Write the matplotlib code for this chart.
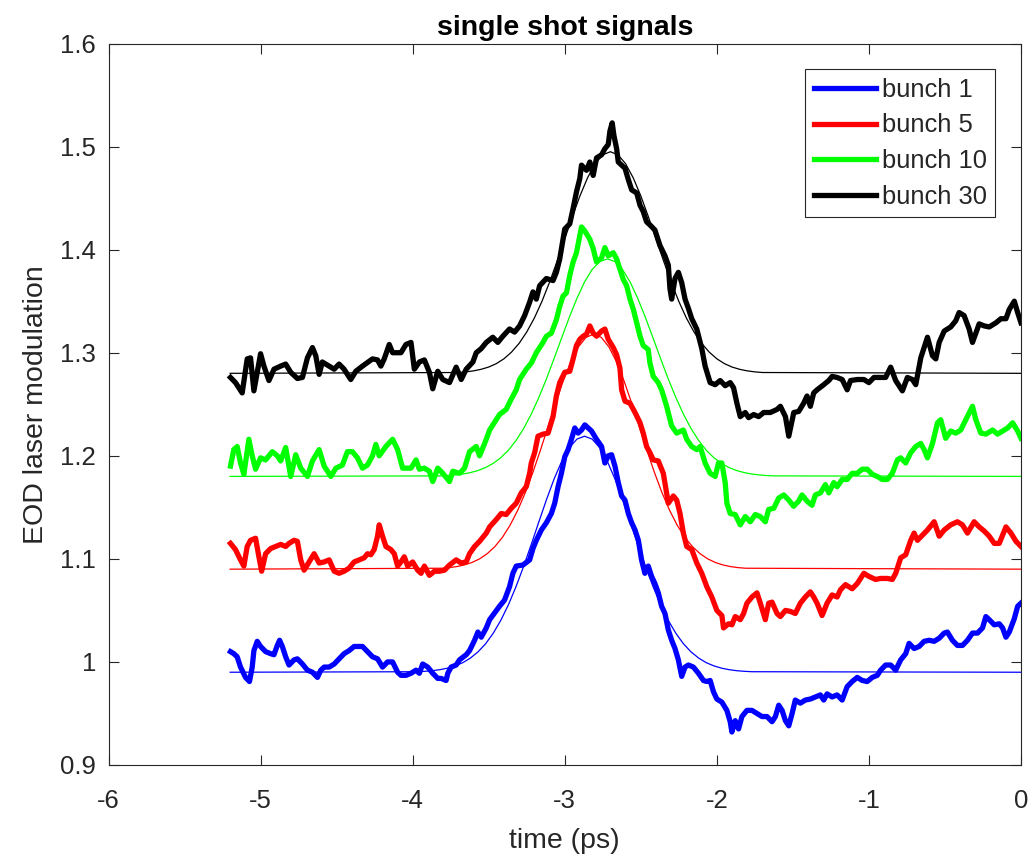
import numpy as np
import matplotlib.pyplot as plt

plt.rcParams['font.family'] = ['Liberation Sans', 'DejaVu Sans']

# ---- measured single shot signals (time in ps, EOD modulation) ----
t_b1 = [-5.198, -5.176, -5.154, -5.132, -5.099, -5.073, -5.055, -5.044, -5.022, -5.000, -4.967, -4.934, -4.912,
        -4.890, -4.875, -4.857, -4.835, -4.813, -4.780, -4.758, -4.725, -4.692, -4.659, -4.626, -4.604, -4.582,
        -4.549, -4.516, -4.484, -4.451, -4.418, -4.385, -4.352, -4.330, -4.297, -4.264, -4.231, -4.198, -4.165,
        -4.132, -4.099, -4.077, -4.044, -4.011, -3.978, -3.956, -3.934, -3.901, -3.868, -3.835, -3.813, -3.780,
        -3.769, -3.747, -3.714, -3.692, -3.648, -3.626, -3.593, -3.571, -3.549, -3.516, -3.494,
        -3.429, -3.396, -3.363, -3.341, -3.319, -3.275, -3.231, -3.209, -3.187, -3.154, -3.121, -3.088, -3.066,
        -3.044, -3.022, -3.000, -2.978, -2.956, -2.934, -2.912, -2.890, -2.868, -2.846, -2.824, -2.791, -2.758,
        -2.736, -2.714, -2.692, -2.670, -2.648, -2.626, -2.604, -2.582, -2.560, -2.538, -2.516, -2.495, -2.473,
        -2.451, -2.429, -2.407, -2.385, -2.363, -2.341, -2.319, -2.297, -2.275, -2.253, -2.231, -2.209, -2.187,
        -2.154, -2.121, -2.088, -2.066, -2.044, -2.022, -2.000, -1.967, -1.934, -1.912,
        -1.901, -1.879, -1.857, -1.835, -1.802, -1.769, -1.736, -1.703, -1.670, -1.637, -1.615, -1.593, -1.571,
        -1.549, -1.527, -1.505, -1.484, -1.451, -1.418, -1.385, -1.352, -1.319, -1.297, -1.275, -1.242, -1.209,
        -1.176, -1.143, -1.110, -1.077, -1.044, -1.011, -0.978, -0.945, -0.923, -0.890, -0.857, -0.824, -0.791,
        -0.758, -0.736, -0.703, -0.670, -0.637, -0.604, -0.571, -0.538, -0.505, -0.484, -0.451, -0.418, -0.385,
        -0.352, -0.319, -0.286, -0.253, -0.231, -0.209, -0.176, -0.143, -0.121, -0.099, -0.077, -0.044, -0.022, 0.000]
v_b1 = [1.010, 1.008, 1.005, 0.995, 0.985, 0.981, 0.995, 1.011, 1.020, 1.015, 1.010, 1.008, 1.007,
        1.016, 1.021, 1.015, 1.005, 0.997, 1.002, 1.003, 0.998, 0.992, 0.990, 0.985, 0.992, 0.995,
        0.995, 0.998, 1.003, 1.008, 1.011, 1.015, 1.015, 1.015, 1.010, 1.005, 1.003, 0.995, 1.000,
        1.000, 0.990, 0.987, 0.987, 0.989, 0.992, 0.989, 0.998, 0.995, 0.989, 0.984, 0.984, 0.982,
        0.989, 0.995, 0.997, 1.002, 1.007, 1.011, 1.021, 1.029, 1.024, 1.033, 1.041,
        1.054, 1.060, 1.073, 1.086, 1.093, 1.094, 1.099, 1.110, 1.118, 1.128, 1.135, 1.144, 1.154,
        1.170, 1.183, 1.199, 1.206, 1.216, 1.227, 1.222, 1.225, 1.230, 1.227, 1.224, 1.216, 1.209,
        1.193, 1.200, 1.201, 1.190, 1.174, 1.161, 1.157, 1.144, 1.135, 1.128, 1.118, 1.099, 1.086,
        1.093, 1.083, 1.076, 1.067, 1.054, 1.047, 1.031, 1.021, 1.013, 1.002, 0.986, 0.995, 0.997,
        0.995, 0.989, 0.982, 0.981, 0.982, 0.971, 0.964, 0.961, 0.953, 0.942,
        0.932, 0.943, 0.935, 0.947, 0.953, 0.953, 0.950, 0.947, 0.947, 0.942, 0.947, 0.958, 0.953,
        0.943, 0.938, 0.950, 0.963, 0.960, 0.963, 0.964, 0.966, 0.968, 0.963, 0.969, 0.966, 0.968,
        0.963, 0.976, 0.981, 0.985, 0.982, 0.981, 0.985, 0.987, 0.992, 0.997, 0.997, 0.992, 1.002,
        1.008, 1.018, 1.013, 1.015, 1.020, 1.021, 1.020, 1.023, 1.028, 1.029, 1.021, 1.016, 1.016,
        1.021, 1.028, 1.028, 1.033, 1.044, 1.041, 1.036, 1.037, 1.033, 1.024, 1.029, 1.042, 1.054, 1.057]

t_b5 = [-5.198, -5.165, -5.132, -5.110, -5.088, -5.066, -5.033, -5.011, -4.993, -4.967, -4.934, -4.901, -4.868,
        -4.835, -4.813, -4.780, -4.758, -4.736, -4.714, -4.681, -4.648, -4.615, -4.582, -4.549, -4.516, -4.484,
        -4.451, -4.418, -4.385, -4.352, -4.319, -4.297, -4.275, -4.253, -4.231, -4.220, -4.198, -4.176, -4.143,
        -4.121, -4.099, -4.077, -4.055, -4.033, -4.000, -3.967, -3.945, -3.923, -3.890, -3.857, -3.824, -3.791,
        -3.758, -3.714, -3.681, -3.648, -3.626, -3.593, -3.560, -3.516, -3.494,
        -3.451, -3.418, -3.385, -3.352, -3.319, -3.286, -3.253, -3.231, -3.220, -3.198, -3.176, -3.143, -3.110,
        -3.077, -3.055, -3.033, -3.000, -2.967, -2.945, -2.923, -2.901, -2.879, -2.857, -2.835, -2.813, -2.791,
        -2.758, -2.736, -2.714, -2.681, -2.659, -2.637, -2.626, -2.604, -2.571, -2.538, -2.505, -2.484, -2.462,
        -2.440, -2.418, -2.385, -2.352, -2.330, -2.319, -2.286, -2.264, -2.242, -2.220, -2.198, -2.165, -2.132,
        -2.099, -2.066, -2.033, -2.000, -1.967, -1.956, -1.923,
        -1.901, -1.879, -1.846, -1.824, -1.802, -1.769, -1.736, -1.714, -1.681, -1.659, -1.637, -1.604, -1.582,
        -1.549, -1.516, -1.484, -1.451, -1.418, -1.385, -1.363, -1.341, -1.308, -1.275, -1.242, -1.209, -1.187,
        -1.154, -1.110, -1.077, -1.033, -1.000, -0.956, -0.923, -0.879, -0.846, -0.824, -0.791, -0.758, -0.725,
        -0.703, -0.681, -0.648, -0.615, -0.571, -0.538, -0.505, -0.462, -0.418, -0.385, -0.352, -0.308, -0.275,
        -0.242, -0.209, -0.176, -0.143, -0.121, -0.099, -0.066, -0.033, 0.000]
v_b5 = [1.115, 1.109, 1.099, 1.093, 1.112, 1.118, 1.120, 1.102, 1.088, 1.105, 1.110, 1.112, 1.114,
        1.112, 1.115, 1.118, 1.117, 1.099, 1.089, 1.097, 1.105, 1.096, 1.097, 1.099, 1.088, 1.086,
        1.088, 1.091, 1.097, 1.099, 1.101, 1.105, 1.104, 1.109, 1.122, 1.133, 1.122, 1.112, 1.109,
        1.105, 1.093, 1.097, 1.102, 1.093, 1.097, 1.089, 1.086, 1.093, 1.084, 1.088, 1.088, 1.089,
        1.094, 1.099, 1.096, 1.097, 1.105, 1.112, 1.117, 1.125, 1.131,
        1.138, 1.144, 1.143, 1.149, 1.154, 1.164, 1.170, 1.183, 1.193, 1.203, 1.219, 1.221, 1.222,
        1.238, 1.258, 1.271, 1.281, 1.282, 1.294, 1.307, 1.313, 1.316, 1.318, 1.326, 1.319, 1.316,
        1.321, 1.323, 1.313, 1.305, 1.298, 1.285, 1.264, 1.253, 1.251, 1.242, 1.232, 1.222, 1.209,
        1.203, 1.196, 1.195, 1.183, 1.164, 1.154, 1.161, 1.157, 1.144, 1.125, 1.112, 1.109, 1.096,
        1.086, 1.073, 1.063, 1.050, 1.045, 1.033, 1.037,
        1.036, 1.044, 1.041, 1.047, 1.057, 1.063, 1.067, 1.057, 1.041, 1.057, 1.058, 1.047, 1.044,
        1.050, 1.049, 1.047, 1.057, 1.063, 1.068, 1.063, 1.057, 1.045, 1.057, 1.065, 1.063, 1.070,
        1.075, 1.071, 1.076, 1.086, 1.083, 1.080, 1.081, 1.081, 1.080, 1.086, 1.101, 1.104, 1.118,
        1.125, 1.118, 1.123, 1.128, 1.136, 1.122, 1.128, 1.133, 1.136, 1.133, 1.125, 1.136, 1.131,
        1.127, 1.122, 1.115, 1.115, 1.123, 1.131, 1.125, 1.117, 1.112]

t_b10 = [-5.198, -5.176, -5.154, -5.132, -5.110, -5.077, -5.055, -5.033, -5.000, -4.967, -4.923, -4.890, -4.868,
         -4.835, -4.802, -4.769, -4.736, -4.692, -4.659, -4.615, -4.582, -4.538, -4.505, -4.462, -4.429, -4.396,
         -4.363, -4.330, -4.297, -4.264, -4.242, -4.220, -4.176, -4.132, -4.099, -4.066, -4.011, -3.978, -3.956,
         -3.923, -3.890, -3.868, -3.835, -3.802, -3.758, -3.736, -3.692, -3.659, -3.626, -3.582, -3.560, -3.516,
         -3.494,
         -3.429, -3.385, -3.352, -3.319, -3.297, -3.253, -3.220, -3.187, -3.143, -3.121, -3.088, -3.055, -3.033,
         -3.011, -2.989, -2.967, -2.945, -2.923, -2.890, -2.868, -2.835, -2.813, -2.791, -2.758, -2.736, -2.714,
         -2.681, -2.659, -2.637, -2.615, -2.593, -2.571, -2.549, -2.527, -2.505, -2.484, -2.451, -2.440, -2.418,
         -2.385, -2.363, -2.330, -2.297, -2.264, -2.220, -2.198, -2.165,
         -2.132, -2.110, -2.077, -2.044, -2.011, -1.989, -1.967, -1.945, -1.934, -1.912, -1.879, -1.846, -1.813,
         -1.780, -1.747, -1.714, -1.681, -1.659, -1.626, -1.593, -1.560, -1.527, -1.495, -1.462, -1.440, -1.407,
         -1.374, -1.352, -1.319, -1.286, -1.264, -1.231, -1.209, -1.176, -1.143, -1.110, -1.077, -1.044, -1.011,
         -0.978, -0.945, -0.912, -0.879, -0.846, -0.813, -0.791, -0.758, -0.725, -0.692, -0.659, -0.637, -0.615,
         -0.582, -0.549, -0.528, -0.495, -0.462, -0.429, -0.396, -0.363, -0.319, -0.297, -0.264, -0.231, -0.187,
         -0.154, -0.121, -0.088, -0.055, -0.022, 0.000]
v_b10 = [1.190, 1.206, 1.209, 1.193, 1.182, 1.216, 1.200, 1.187, 1.198, 1.196, 1.204, 1.200, 1.195,
         1.208, 1.180, 1.201, 1.188, 1.180, 1.195, 1.206, 1.190, 1.180, 1.188, 1.191, 1.204, 1.204,
         1.198, 1.188, 1.191, 1.200, 1.211, 1.200, 1.209, 1.216, 1.206, 1.188, 1.188, 1.196, 1.187,
         1.188, 1.185, 1.175, 1.188, 1.183, 1.175, 1.185, 1.183, 1.188, 1.204, 1.209, 1.200, 1.216,
         1.225,
         1.240, 1.245, 1.255, 1.264, 1.274, 1.284, 1.290, 1.300, 1.310, 1.316, 1.319, 1.332, 1.345,
         1.355, 1.358, 1.375, 1.388, 1.397, 1.422, 1.418, 1.410, 1.401, 1.388, 1.392, 1.402, 1.394,
         1.397, 1.391, 1.381, 1.371, 1.365, 1.352, 1.342, 1.329, 1.316, 1.307, 1.303, 1.290, 1.277,
         1.271, 1.264, 1.248, 1.229, 1.222, 1.225, 1.216, 1.209,
         1.206, 1.209, 1.193, 1.183, 1.180, 1.193, 1.193, 1.174, 1.154, 1.144, 1.143, 1.133, 1.141,
         1.136, 1.143, 1.141, 1.136, 1.148, 1.149, 1.159, 1.162, 1.157, 1.151, 1.156, 1.162, 1.156,
         1.152, 1.162, 1.164, 1.172, 1.164, 1.174, 1.170, 1.177, 1.177, 1.183, 1.183, 1.187, 1.187,
         1.182, 1.180, 1.177, 1.177, 1.183, 1.196, 1.198, 1.193, 1.203, 1.209, 1.212, 1.206, 1.198,
         1.212, 1.232, 1.235, 1.217, 1.224, 1.222, 1.225, 1.235, 1.248, 1.235, 1.222, 1.221, 1.225,
         1.221, 1.224, 1.227, 1.232, 1.224, 1.217]

t_b30 = [-5.198, -5.165, -5.121, -5.088, -5.066, -5.044, -5.022, -5.000, -4.978, -4.945, -4.912, -4.868, -4.835,
         -4.802, -4.758, -4.725, -4.692, -4.659, -4.637, -4.615, -4.594, -4.549, -4.516, -4.484, -4.451, -4.407,
         -4.374, -4.330, -4.264, -4.231, -4.209, -4.187, -4.154, -4.132, -4.077, -4.044, -4.011, -3.989, -3.956,
         -3.923, -3.890, -3.868, -3.835, -3.802, -3.758,
         -3.714, -3.681, -3.648, -3.604, -3.582, -3.549, -3.516, -3.473, -3.440, -3.407, -3.363, -3.330, -3.297,
         -3.264, -3.231, -3.209, -3.187, -3.165, -3.121, -3.077, -3.055, -3.033, -3.000, -2.967, -2.945, -2.923,
         -2.901, -2.890, -2.857, -2.835, -2.813, -2.791, -2.758, -2.736, -2.714, -2.703, -2.688, -2.677, -2.659,
         -2.648, -2.626, -2.604, -2.582, -2.560, -2.527, -2.505, -2.484, -2.462, -2.440, -2.407, -2.374, -2.341,
         -2.319, -2.308, -2.297, -2.275, -2.253, -2.231, -2.209, -2.187, -2.165, -2.132,
         -2.099, -2.077, -2.044, -2.011, -1.978, -1.945, -1.912, -1.890, -1.868, -1.846, -1.813, -1.791, -1.758,
         -1.725, -1.692, -1.648, -1.604, -1.582, -1.549, -1.527, -1.494, -1.462, -1.429, -1.407, -1.385, -1.363,
         -1.341, -1.297, -1.264, -1.242, -1.209, -1.176, -1.143, -1.121, -1.077, -1.033, -1.000, -0.967, -0.923,
         -0.890, -0.857, -0.824, -0.780, -0.747, -0.714, -0.692, -0.659, -0.615, -0.582, -0.560, -0.538, -0.505,
         -0.462, -0.429, -0.407, -0.374, -0.341, -0.319, -0.275, -0.242, -0.209, -0.165, -0.132, -0.099, -0.077,
         -0.044, -0.022, 0.000]
v_b30 = [1.276, 1.271, 1.261, 1.294, 1.295, 1.263, 1.281, 1.299, 1.287, 1.273, 1.284, 1.287, 1.289,
         1.281, 1.275, 1.276, 1.295, 1.305, 1.297, 1.279, 1.291, 1.287, 1.284, 1.289, 1.284, 1.274,
         1.282, 1.287, 1.294, 1.293, 1.287, 1.294, 1.308, 1.300, 1.300, 1.308, 1.310, 1.284, 1.291,
         1.293, 1.281, 1.265, 1.282, 1.274, 1.271,
         1.286, 1.274, 1.284, 1.291, 1.300, 1.304, 1.310, 1.315, 1.310, 1.316, 1.323, 1.320, 1.326,
         1.336, 1.349, 1.359, 1.352, 1.365, 1.372, 1.370, 1.378, 1.391, 1.420, 1.425, 1.440, 1.456,
         1.469, 1.482, 1.477, 1.485, 1.472, 1.489, 1.492, 1.498, 1.502, 1.515, 1.523, 1.511, 1.498,
         1.485, 1.482, 1.479, 1.468, 1.458, 1.455, 1.443, 1.437, 1.427, 1.424, 1.419, 1.404, 1.394,
         1.385, 1.362, 1.352, 1.372, 1.378, 1.368, 1.352, 1.343, 1.333, 1.323,
         1.304, 1.287, 1.271, 1.269, 1.273, 1.268, 1.271, 1.266, 1.251, 1.238, 1.242, 1.237, 1.240,
         1.238, 1.242, 1.242, 1.245, 1.248, 1.238, 1.219, 1.242, 1.243, 1.251, 1.258, 1.248, 1.261,
         1.264, 1.269, 1.273, 1.277, 1.276, 1.274, 1.264, 1.273, 1.274, 1.274, 1.271, 1.276, 1.276,
         1.276, 1.286, 1.273, 1.263, 1.276, 1.274, 1.269, 1.295, 1.315, 1.297, 1.294, 1.310, 1.321,
         1.325, 1.331, 1.339, 1.336, 1.323, 1.310, 1.328, 1.326, 1.325, 1.329, 1.333, 1.333, 1.342,
         1.350, 1.339, 1.329]

# ---- fitted curves (thin lines) ----
fx_b1 = [-5.20, -3.97, -3.92, -3.87, -3.82, -3.77, -3.72, -3.67, -3.62, -3.57, -3.52, -3.47, -3.42, -3.37,
         -3.32, -3.27, -3.22, -3.17, -3.12, -3.07, -3.02, -2.97, -2.92, -2.87, -2.82, -2.77, -2.72, -2.67,
         -2.62, -2.57, -2.52, -2.47, -2.42, -2.37, -2.32, -2.27, -2.22, -2.17, -2.12, -2.07, -2.02, -1.97,
         -1.92, -1.87, -1.82, -1.77, 0.00]
fy_b1 = [0.99, 0.9905, 0.9909, 0.9915, 0.9925, 0.9940, 0.9962, 0.9993, 1.0038, 1.0098, 1.0177, 1.0279, 1.0405,
         1.0556, 1.0732, 1.0929, 1.1141, 1.1360, 1.1575, 1.1775, 1.1946, 1.2078, 1.2162, 1.2190, 1.2162, 1.2078,
         1.1946, 1.1775, 1.1575, 1.1360, 1.1141, 1.0929, 1.0732, 1.0556, 1.0405, 1.0279, 1.0177, 1.0098, 1.0038,
         0.9993, 0.9962, 0.9940, 0.9925, 0.9915, 0.9909, 0.9905, 0.99]

fx_b5 = [-5.20, -3.81, -3.76, -3.71, -3.66, -3.61, -3.56, -3.51, -3.46, -3.41, -3.36, -3.31, -3.26, -3.21,
         -3.16, -3.11, -3.06, -3.01, -2.96, -2.91, -2.86, -2.81, -2.76, -2.71, -2.66, -2.61, -2.56, -2.51,
         -2.46, -2.41, -2.36, -2.31, -2.26, -2.21, -2.16, -2.11, -2.06, -2.01, -1.96, -1.91, -1.86, -1.81, 0.00]
fy_b5 = [1.09, 1.0909, 1.0915, 1.0925, 1.0941, 1.0965, 1.1000, 1.1050, 1.1118, 1.1208, 1.1325, 1.1469, 1.1640,
         1.1837, 1.2054, 1.2283, 1.2511, 1.2726, 1.2912, 1.3057, 1.3149, 1.3180, 1.3149, 1.3057, 1.2912, 1.2726,
         1.2511, 1.2283, 1.2054, 1.1837, 1.1640, 1.1469, 1.1325, 1.1208, 1.1118, 1.1050, 1.1000, 1.0965, 1.0941,
         1.0925, 1.0915, 1.0909, 1.09]

fx_b10 = [-5.20, -3.82, -3.77, -3.72, -3.67, -3.62, -3.57, -3.52, -3.47, -3.42, -3.37, -3.32, -3.27, -3.22,
          -3.17, -3.12, -3.07, -3.02, -2.97, -2.92, -2.87, -2.82, -2.77, -2.72, -2.67, -2.62, -2.57, -2.52,
          -2.47, -2.42, -2.37, -2.32, -2.27, -2.22, -2.17, -2.12, -2.07, -2.02, -1.97, -1.92, -1.87, -1.82,
          -1.77, -1.72, -1.67, -1.62, 0.00]
fy_b10 = [1.18, 1.1805, 1.1808, 1.1814, 1.1823, 1.1837, 1.1857, 1.1886, 1.1927, 1.1982, 1.2055, 1.2149, 1.2265,
          1.2405, 1.2567, 1.2748, 1.2944, 1.3145, 1.3344, 1.3527, 1.3686, 1.3807, 1.3884, 1.3910, 1.3884, 1.3807,
          1.3686, 1.3527, 1.3344, 1.3145, 1.2944, 1.2748, 1.2567, 1.2405, 1.2265, 1.2149, 1.2055, 1.1982, 1.1927,
          1.1886, 1.1857, 1.1837, 1.1823, 1.1814, 1.1808, 1.1805, 1.18]

fx_b30 = [-5.20, -3.70, -3.65, -3.60, -3.55, -3.50, -3.45, -3.40, -3.35, -3.30, -3.25, -3.20, -3.15, -3.10,
          -3.05, -3.00, -2.95, -2.90, -2.85, -2.80, -2.75, -2.70, -2.65, -2.60, -2.55, -2.50, -2.45, -2.40,
          -2.35, -2.30, -2.25, -2.20, -2.15, -2.10, -2.05, -2.00, -1.95, -1.90, -1.85, -1.80, -1.75, -1.70, 0.00]
fy_b30 = [1.28, 1.2808, 1.2814, 1.2824, 1.2839, 1.2861, 1.2894, 1.2941, 1.3006, 1.3091, 1.3201, 1.3336, 1.3498,
          1.3684, 1.3889, 1.4104, 1.4319, 1.4522, 1.4697, 1.4834, 1.4920, 1.4950, 1.4920, 1.4834, 1.4697, 1.4522,
          1.4319, 1.4104, 1.3889, 1.3684, 1.3498, 1.3336, 1.3201, 1.3091, 1.3006, 1.2941, 1.2894, 1.2861, 1.2839,
          1.2824, 1.2814, 1.2808, 1.28]

labels = ['bunch 1', 'bunch 5', 'bunch 10', 'bunch 30']
colors = ['#0000ff', '#ff0000', '#00ff00', '#000000']
xticks = [-6, -5, -4, -3, -2, -1, 0]
xtick_labels = ['-6', '-5', '-4', '-3', '-2', '-1', '0']
yticks = [0.9, 1.0, 1.1, 1.2, 1.3, 1.4, 1.5, 1.6]
ytick_labels = ['0.9', '1', '1.1', '1.2', '1.3', '1.4', '1.5', '1.6']

W, H = 1029, 856
fig = plt.figure(figsize=(W / 100, H / 100), dpi=100)
ax = fig.add_axes([108.5 / W, (H - 765) / H, 912.5 / W, 721.5 / H])

sig = [(t_b1, v_b1), (t_b5, v_b5), (t_b10, v_b10), (t_b30, v_b30)]
fits = [(fx_b1, fy_b1), (fx_b5, fy_b5), (fx_b10, fy_b10), (fx_b30, fy_b30)]

handles = []
for (t, v), lab, c in zip(sig, labels, colors):
    h, = ax.plot(t, v, color=c, lw=3.8, label=lab, solid_joinstyle='round')
    handles.append(h)
for (fx, fy), c in zip(fits, colors):
    ax.plot(fx, fy, color=c, lw=0.9)

ax.set_xlim(-6, 0)
ax.set_ylim(0.9, 1.6)
ax.set_xticks(xticks)
ax.set_xticklabels(xtick_labels)
ax.set_yticks(yticks)
ax.set_yticklabels(ytick_labels)

dark = '#262626'
for s in ax.spines.values():
    s.set_color(dark)
    s.set_linewidth(0.8)
ax.tick_params(direction='in', length=7, width=0.8, top=True, right=True,
               colors=dark, labelsize=18.5)
ax.tick_params(axis='x', pad=17)
ax.tick_params(axis='y', pad=9)

ax.set_xlabel('time (ps)', fontsize=20.5, color=dark, labelpad=11)
ax.set_ylabel('EOD laser modulation', fontsize=20.5, color=dark, labelpad=8)
ax.set_title('single shot signals', fontsize=20.5, fontweight='bold', pad=6)

leg = ax.legend(handles=handles, loc='upper right', fontsize=18.4, handlelength=2.46,
                handletextpad=0.2, labelspacing=0.45, borderpad=0.35, borderaxespad=1.0,
                fancybox=False, edgecolor=dark, framealpha=1)
leg.get_frame().set_linewidth(0.8)
for txt in leg.get_texts():
    txt.set_color(dark)

fig.savefig('out.png', dpi=100)
